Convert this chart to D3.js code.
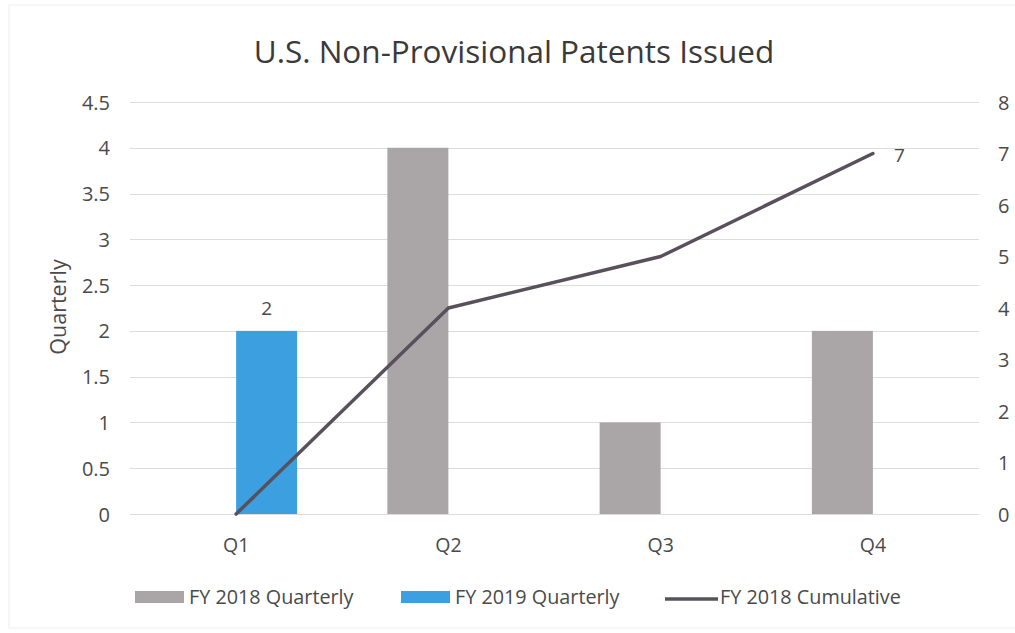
<!DOCTYPE html>
<html>
<head>
<meta charset="utf-8">
<script src="https://cdn.jsdelivr.net/npm/d3@7"></script>
<style>
  body { margin: 0; background: #fff; }
  text { font-family: "Open Sans", Lato, sans-serif; fill: #4a4a4a; }
</style>
</head>
<body>
<div id="chart"></div>
<script>
var quarters = ['Q1', 'Q2', 'Q3', 'Q4']
var fy2018Quarterly = [0, 4, 1, 2]
var fy2019Quarterly = [2, null, null, null]
var fy2018Cumulative = [0, 4, 5, 7]
var leftTicks = [0, 0.5, 1, 1.5, 2, 2.5, 3, 3.5, 4, 4.5]
var rightTicks = [0, 1, 2, 3, 4, 5, 6, 7, 8]
var seriesNames = ['FY 2018 Quarterly', 'FY 2019 Quarterly', 'FY 2018 Cumulative']

var width = 1015, height = 633
var plot = { left: 130, right: 979, top: 102, bottom: 514 }
var colors = { gray: '#aaa6a7', blue: '#3c9fe0', line: '#58505a', grid: '#dcdcdc' }

var svg = d3.select('#chart').append('svg')
    .attr('width', width)
    .attr('height', height)

// faint frame of the scanned chart
svg.append('rect')
    .attr('x', 9).attr('y', 5)
    .attr('width', 1010).attr('height', 623)
    .attr('fill', 'none')
    .attr('stroke', '#eeeeee')

var x = d3.scaleBand().domain(quarters).range([plot.left, plot.right])
var yLeft = d3.scaleLinear().domain([0, 4.5]).range([plot.bottom, plot.top])
var yRight = d3.scaleLinear().domain([0, 8]).range([plot.bottom, plot.top])
var barW = 61
var cx = function(q) { return x(q) + x.bandwidth() / 2 }

svg.append('text')
    .attr('x', 514).attr('y', 63)
    .attr('text-anchor', 'middle')
    .style('font-size', '31.5px')
    .style('fill', '#3a3a3a')
    .text('U.S. Non-Provisional Patents Issued')

// gridlines
svg.append('g')
    .selectAll('line')
    .data(leftTicks)
    .enter()
    .append('line')
    .attr('x1', plot.left).attr('x2', plot.right)
    .attr('y1', function(d) { return Math.round(yLeft(d)) + 0.5 })
    .attr('y2', function(d) { return Math.round(yLeft(d)) + 0.5 })
    .attr('stroke', colors.grid)
    .attr('stroke-width', 1)

// left axis
var leftAxis = svg.append('g')
    .attr('transform', 'translate(' + (plot.left - 20) + ',0)')
    .call(d3.axisLeft(yLeft).tickValues(leftTicks).tickSize(0).tickPadding(0).tickFormat(d3.format('')))
leftAxis.select('.domain').remove()
leftAxis.selectAll('text').style('font-size', '20px').attr('dy', '0.35em')

// right axis
var rightAxis = svg.append('g')
    .attr('transform', 'translate(' + (plot.right + 19) + ',0)')
    .call(d3.axisRight(yRight).tickValues(rightTicks).tickSize(0).tickPadding(0))
rightAxis.select('.domain').remove()
rightAxis.selectAll('text').style('font-size', '20px').attr('dy', '0.35em')

// category axis
var bottomAxis = svg.append('g')
    .attr('transform', 'translate(0,' + (plot.bottom + 24) + ')')
    .call(d3.axisBottom(x).tickSize(0).tickPadding(0))
bottomAxis.select('.domain').remove()
bottomAxis.selectAll('text').style('font-size', '19.5px').attr('dy', '0.71em')

svg.append('text')
    .attr('transform', 'translate(66,307) rotate(-90)')
    .attr('text-anchor', 'middle')
    .style('font-size', '21.5px')
    .text('Quarterly')

// bars
svg.append('g')
    .selectAll('rect')
    .data(quarters.filter(function(q, i) { return fy2018Quarterly[i] }))
    .enter()
    .append('rect')
    .attr('x', function(q) { return cx(q) - barW })
    .attr('y', function(q) { return yLeft(fy2018Quarterly[quarters.indexOf(q)]) })
    .attr('width', barW)
    .attr('height', function(q) { return plot.bottom - yLeft(fy2018Quarterly[quarters.indexOf(q)]) })
    .attr('fill', colors.gray)

svg.append('g')
    .selectAll('rect')
    .data(quarters.filter(function(q, i) { return fy2019Quarterly[i] != null }))
    .enter()
    .append('rect')
    .attr('x', function(q) { return cx(q) })
    .attr('y', function(q) { return yLeft(fy2019Quarterly[quarters.indexOf(q)]) })
    .attr('width', barW)
    .attr('height', function(q) { return plot.bottom - yLeft(fy2019Quarterly[quarters.indexOf(q)]) })
    .attr('fill', colors.blue)

svg.append('g')
    .selectAll('text')
    .data(quarters.filter(function(q, i) { return fy2019Quarterly[i] != null }))
    .enter()
    .append('text')
    .attr('x', function(q) { return cx(q) + barW / 2 })
    .attr('y', function(q) { return yLeft(fy2019Quarterly[quarters.indexOf(q)]) - 23 })
    .attr('text-anchor', 'middle')
    .attr('dy', '0.35em')
    .style('font-size', '19px')
    .text(function(q) { return fy2019Quarterly[quarters.indexOf(q)] })

// cumulative line
var line = d3.line()
    .x(function(d, i) { return cx(quarters[i]) })
    .y(function(d) { return yRight(d) })

svg.append('path')
    .datum(fy2018Cumulative)
    .attr('d', line)
    .attr('fill', 'none')
    .attr('stroke', colors.line)
    .attr('stroke-width', 3.5)
    .attr('stroke-linejoin', 'round')
    .attr('stroke-linecap', 'round')

var last = fy2018Cumulative.length - 1
svg.append('text')
    .attr('x', cx(quarters[last]) + 21)
    .attr('y', yRight(fy2018Cumulative[last]) + 2)
    .attr('dy', '0.35em')
    .style('font-size', '19px')
    .text(fy2018Cumulative[last])

// legend
var legend = svg.append('g').attr('transform', 'translate(0,597)')
var legendX = [135, 401, 665]
seriesNames.forEach(function(name, i) {
    var g = legend.append('g').attr('transform', 'translate(' + legendX[i] + ',0)')
    if (i < 2) {
        g.append('rect')
            .attr('x', 0).attr('y', -6)
            .attr('width', 49).attr('height', 12)
            .attr('fill', i == 0 ? colors.gray : colors.blue)
    } else {
        g.append('line')
            .attr('x1', 0).attr('x2', 53)
            .attr('y1', 2).attr('y2', 2)
            .attr('stroke', colors.line)
            .attr('stroke-width', 3.5)
    }
    g.append('text')
        .attr('x', i < 2 ? 54 : 55)
        .attr('dy', '0.35em')
        .style('font-size', '19.8px')
        .text(name)
})
</script>
</body>
</html>
